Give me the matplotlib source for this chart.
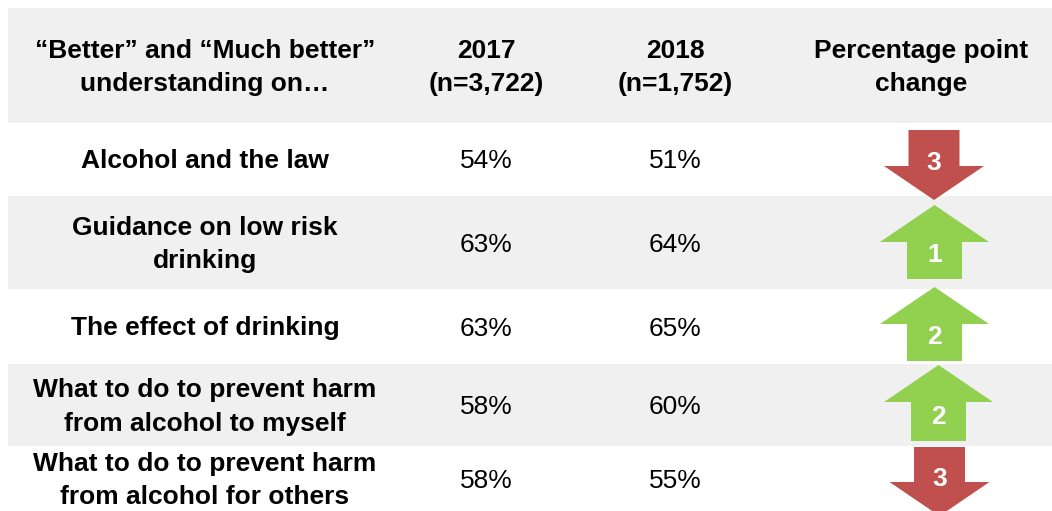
import matplotlib
matplotlib.use("Agg")
import matplotlib.pyplot as plt
from matplotlib.patches import Polygon, Rectangle

plt.rcParams['font.family'] = ['Liberation Sans', 'DejaVu Sans']

# table content
headers = ['\u201cBetter\u201d and \u201cMuch better\u201d\nunderstanding on\u2026',
           '2017\n(n=3,722)', '2018\n(n=1,752)', 'Percentage point\nchange']
topics = ['Alcohol and the law',
          'Guidance on low risk\ndrinking',
          'The effect of drinking',
          'What to do to prevent harm\nfrom alcohol to myself',
          'What to do to prevent harm\nfrom alcohol for others']
pct_2017 = [54, 63, 63, 58, 58]
pct_2018 = [51, 64, 65, 60, 55]
change = [-3, 1, 2, 2, -3]

# layout (pixel units)
col_x = [205, 486, 675, 921]
header_band = (8, 123)
row_edges = [123, 196, 289, 364, 446, 511]
arrow_cx = [934, 934.5, 934.5, 938.5, 939.5]
arrow_span = [(130, 200), (205, 279), (287, 361), (365, 441), (447, 516)]
num_y = [163, 255, 337, 417, 479]

RED = '#C0504D'
GREEN = '#92D050'
GREY = '#F0F0F0'
FS = 19
LS = 1.5
DY = 2  # nudge text down so glyphs sit centred in the cell

fig = plt.figure(figsize=(10.52, 5.11), dpi=100)
ax = fig.add_axes([0, 0, 1, 1])
ax.set_xlim(0, 1052)
ax.set_ylim(511, 0)
ax.axis('off')

# header band
ax.add_patch(Rectangle((8, header_band[0]), 1052 - 8, header_band[1] - header_band[0],
                       color=GREY, lw=0, zorder=0))
hy = (header_band[0] + header_band[1]) / 2 + DY
for x, h in zip(col_x, headers):
    ax.text(x, hy, h, ha='center', va='center', fontsize=FS,
            fontweight='bold', linespacing=LS)

# body rows
for i, topic in enumerate(topics):
    top, bot = row_edges[i], row_edges[i + 1]
    yc = (top + bot) / 2 + DY
    if i % 2 == 1:
        ax.add_patch(Rectangle((8, top), 1052 - 8, bot - top, color=GREY, lw=0, zorder=0))
    ax.text(col_x[0], yc, topic, ha='center', va='center', fontsize=FS,
            fontweight='bold', linespacing=LS)
    ax.text(col_x[1], yc, f'{pct_2017[i]}%', ha='center', va='center', fontsize=FS)
    ax.text(col_x[2], yc, f'{pct_2018[i]}%', ha='center', va='center', fontsize=FS)

    # change arrow: up for gain, down for drop
    d = change[i]
    cx = arrow_cx[i]
    t, b = arrow_span[i]
    if d > 0:
        sw, hw, hl = 55 / 2, 109 / 2, 37
        pts = [(cx, t), (cx + hw, t + hl), (cx + sw, t + hl), (cx + sw, b),
               (cx - sw, b), (cx - sw, t + hl), (cx - hw, t + hl)]
        col = GREEN
    else:
        sw, hw, hl = 51 / 2, 100 / 2, 34
        pts = [(cx - sw, t), (cx + sw, t), (cx + sw, b - hl), (cx + hw, b - hl),
               (cx, b), (cx - hw, b - hl), (cx - sw, b - hl)]
        col = RED
    ax.add_patch(Polygon(pts, closed=True, color=col, lw=0, zorder=2))
    ax.text(cx, num_y[i], str(abs(d)), ha='center', va='center', fontsize=FS,
            fontweight='bold', color='white', zorder=3)

fig.savefig('out.png', dpi=100, facecolor='white')
